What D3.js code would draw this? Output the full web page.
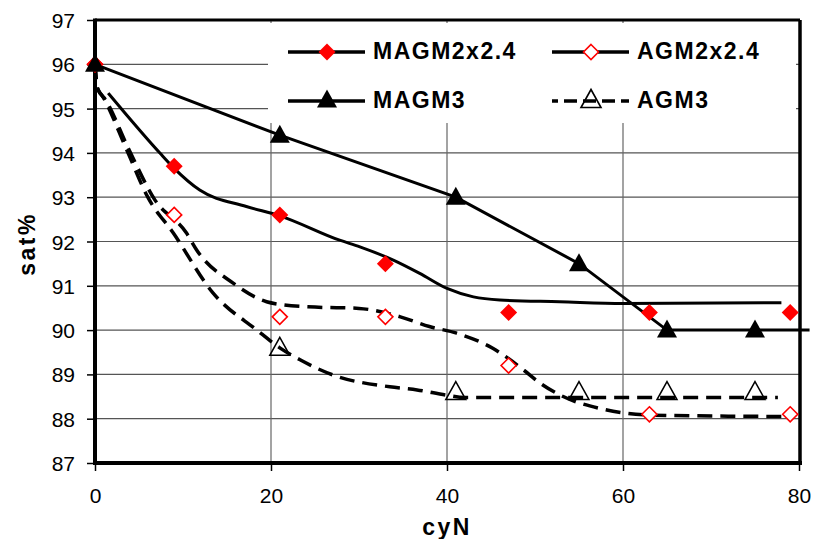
<!DOCTYPE html>
<html>
<head>
<meta charset="utf-8">
<script src="https://d3js.org/d3.v7.min.js"></script>
<style>
    body { margin: 0; background: white; }
    svg text { font-family: Arial, "Liberation Sans", Helvetica, sans-serif; }
</style>
</head>
<body>
<div id="chart"></div>
<script>
// measured points
var magm2Pts = [[0, 96], [9, 93.7], [21, 92.6], [33, 91.5], [47, 90.4], [63, 90.4], [79, 90.4]];
var agm2Pts  = [[0, 96], [9, 92.6], [21, 90.3], [33, 90.3], [47, 89.2], [63, 88.1], [79, 88.1]];
var magm3Pts = [[0, 96], [21, 94.4], [41, 93], [55, 91.5], [65, 90], [75, 90]];
var agm3Pts  = [[21, 89.6], [41, 88.6], [55, 88.6], [65, 88.6], [75, 88.6]];

// fitted lines
var magm2Fit = [[1.5, 95.35], [3.4, 94.9], [7.4, 93.99], [9, 93.65], [11.9, 93.16], [17.2, 92.79],
                [21, 92.58], [27.8, 92.03], [30.1, 91.88], [33.9, 91.58], [36.9, 91.28], [40, 90.94],
                [43, 90.75], [46, 90.68], [52.8, 90.64], [60, 90.6], [78, 90.62]];
var magm3Line = [[0, 96], [21, 94.4], [41, 93], [55, 91.5], [65, 90], [75, 90], [81.2, 90]];
var agm2Fit = [[0, 96], [0.3, 95.45], [1.2, 95.2], [3.8, 94.1], [6.8, 92.94], [10.4, 92.19],
               [11.55, 91.81], [15.7, 91.06], [19.5, 90.64], [21, 90.58], [25, 90.52], [30, 90.49],
               [34.7, 90.3], [38, 90.08], [41.1, 89.93], [45.2, 89.59], [48.7, 89.1], [50.6, 88.8],
               [53.2, 88.5], [57.4, 88.23], [63.4, 88.08], [78.5, 88.05]];
var agm3Fit = [[0, 96], [0.3, 95.45], [0.8, 95.3], [3.6, 94.07], [6, 93.0], [8.9, 92.19],
               [13.4, 90.84], [18.4, 90.0], [21, 89.6], [23.3, 89.33], [27, 88.99], [33.5, 88.72],
               [36.6, 88.65], [40, 88.53], [42, 88.48], [77.6, 88.48]];

var xTicks = [0, 20, 40, 60, 80];
var yTicks = [87, 88, 89, 90, 91, 92, 93, 94, 95, 96, 97];

var width = 814, height = 539;
var svg = d3.select("#chart").append("svg").attr("width", width).attr("height", height);

var x = d3.scaleLinear().domain([0, 80]).range([95, 799]);
var y = d3.scaleLinear().domain([87, 97]).range([463, 20]);

// grid
svg.append("g").selectAll("line").data(yTicks.slice(1, -1)).enter().append("line")
    .attr("x1", x(0)).attr("x2", x(80))
    .attr("y1", function (d) { return y(d); }).attr("y2", function (d) { return y(d); })
    .attr("stroke", "#555").attr("stroke-width", 1.2);
svg.append("g").selectAll("line").data(xTicks.slice(1, -1)).enter().append("line")
    .attr("x1", function (d) { return x(d); }).attr("x2", function (d) { return x(d); })
    .attr("y1", y(97)).attr("y2", y(87))
    .attr("stroke", "#666").attr("stroke-width", 1.2);

// legend background hides the grid
svg.append("rect").attr("x", 268).attr("y", 23).attr("width", 528).attr("height", 100).attr("fill", "white");

// axes
var yAxis = svg.append("g").attr("transform", "translate(" + x(0) + ",0)")
    .call(d3.axisLeft(y).tickValues(yTicks).tickSize(8).tickPadding(12));
var xAxis = svg.append("g").attr("transform", "translate(0," + y(87) + ")")
    .call(d3.axisBottom(x).tickValues(xTicks).tickSize(8).tickPadding(17));
[xAxis, yAxis].forEach(function (a) {
    a.select(".domain").remove();
    a.selectAll(".tick line").attr("stroke", "#000").attr("stroke-width", 1.5);
    a.selectAll("text").style("font-size", "21px").attr("fill", "#000");
});
yAxis.selectAll("text").attr("dy", "0.36em");

// frame
svg.append("line").attr("x1", x(0)).attr("x2", x(80) + 1).attr("y1", y(97)).attr("y2", y(97)).attr("stroke", "#000").attr("stroke-width", 3);
svg.append("line").attr("x1", x(80) + 1).attr("x2", x(80) + 1).attr("y1", y(97)).attr("y2", y(87)).attr("stroke", "#000").attr("stroke-width", 3.5);
svg.append("line").attr("x1", x(0)).attr("x2", x(0)).attr("y1", y(97) - 1.5).attr("y2", y(87) + 2).attr("stroke", "#000").attr("stroke-width", 4);
svg.append("line").attr("x1", x(0) - 2).attr("x2", x(80) + 3).attr("y1", y(87)).attr("y2", y(87)).attr("stroke", "#000").attr("stroke-width", 4);

// lines
var lineSmooth = d3.line().curve(d3.curveMonotoneX)
    .x(function (d) { return x(d[0]); }).y(function (d) { return y(d[1]); });
var lineStraight = d3.line()
    .x(function (d) { return x(d[0]); }).y(function (d) { return y(d[1]); });

svg.append("path").datum(agm3Fit).attr("d", lineSmooth)
    .attr("fill", "none").attr("stroke", "#000").attr("stroke-width", 3.5).attr("stroke-dasharray", "15,8");
svg.append("path").datum(agm2Fit).attr("d", lineSmooth)
    .attr("fill", "none").attr("stroke", "#000").attr("stroke-width", 3.5).attr("stroke-dasharray", "15,8");
svg.append("path").datum(magm2Fit).attr("d", lineSmooth)
    .attr("fill", "none").attr("stroke", "#000").attr("stroke-width", 3);
svg.append("path").datum(magm3Line).attr("d", lineStraight)
    .attr("fill", "none").attr("stroke", "#000").attr("stroke-width", 3);

// markers
var diamond = "M0,-8.5L8.5,0L0,8.5L-8.5,0Z";
var diamondOpen = "M0,-7.5L7.5,0L0,7.5L-7.5,0Z";
var tri = "M0,-10.5L10,7.5L-10,7.5Z";

svg.append("g").selectAll("path").data(agm3Pts).enter().append("path")
    .attr("d", tri).attr("transform", function (d) { return "translate(" + x(d[0]) + "," + y(d[1]) + ")"; })
    .attr("fill", "none").attr("stroke", "#000").attr("stroke-width", 1.5);
svg.append("g").selectAll("path").data(agm2Pts).enter().append("path")
    .attr("d", diamondOpen).attr("transform", function (d) { return "translate(" + x(d[0]) + "," + y(d[1]) + ")"; })
    .attr("fill", "white").attr("stroke", "#ff0000").attr("stroke-width", 1.6);
svg.append("g").selectAll("path").data(magm2Pts).enter().append("path")
    .attr("d", diamond).attr("transform", function (d) { return "translate(" + x(d[0]) + "," + y(d[1]) + ")"; })
    .attr("fill", "#ff0000");
svg.append("g").selectAll("path").data(magm3Pts).enter().append("path")
    .attr("d", tri).attr("transform", function (d) { return "translate(" + x(d[0]) + "," + y(d[1]) + ")"; })
    .attr("fill", "#000");

// legend
var legendItems = [
    { name: "MAGM2x2.4", lx: 288, tx: 373, ly: 52, marker: diamond, fill: "#ff0000", stroke: "none", dash: null },
    { name: "AGM2x2.4", lx: 552, tx: 637, ly: 52, marker: diamondOpen, fill: "white", stroke: "#ff0000", dash: null },
    { name: "MAGM3", lx: 288, tx: 373, ly: 101, marker: tri, fill: "#000", stroke: "none", dash: null },
    { name: "AGM3", lx: 552, tx: 637, ly: 101, marker: tri, fill: "none", stroke: "#000", dash: "13,6" }
];
var lg = svg.append("g").selectAll("g").data(legendItems).enter().append("g");
lg.append("line")
    .attr("x1", function (d) { return d.lx; }).attr("x2", function (d) { return d.lx + 77; })
    .attr("y1", function (d) { return d.ly; }).attr("y2", function (d) { return d.ly; })
    .attr("stroke", "#000").attr("stroke-width", 3.5)
    .attr("stroke-dasharray", function (d) { return d.dash; })
    .attr("stroke-dashoffset", function (d) { return d.dash ? 7 : null; });
lg.append("path")
    .attr("d", function (d) { return d.marker; })
    .attr("transform", function (d) { return "translate(" + (d.lx + 39) + "," + (d.ly - (d.marker === tri ? 1 : 0)) + ")"; })
    .attr("fill", function (d) { return d.fill; })
    .attr("stroke", function (d) { return d.stroke; })
    .attr("stroke-width", 1.6);
lg.append("text")
    .attr("x", function (d) { return d.tx; }).attr("y", function (d) { return d.ly + 7; })
    .style("font-size", "23px").style("font-weight", "bold").style("letter-spacing", "1.5px")
    .text(function (d) { return d.name; });

// axis titles
svg.append("text").attr("x", 447).attr("y", 535).attr("text-anchor", "middle")
    .style("font-size", "23px").style("font-weight", "bold").style("letter-spacing", "2.5px").text("cyN");
svg.append("text").attr("transform", "translate(35,244) rotate(-90)").attr("text-anchor", "middle")
    .style("font-size", "23px").style("font-weight", "bold").style("letter-spacing", "2.5px").text("sat%");
</script>
</body>
</html>
